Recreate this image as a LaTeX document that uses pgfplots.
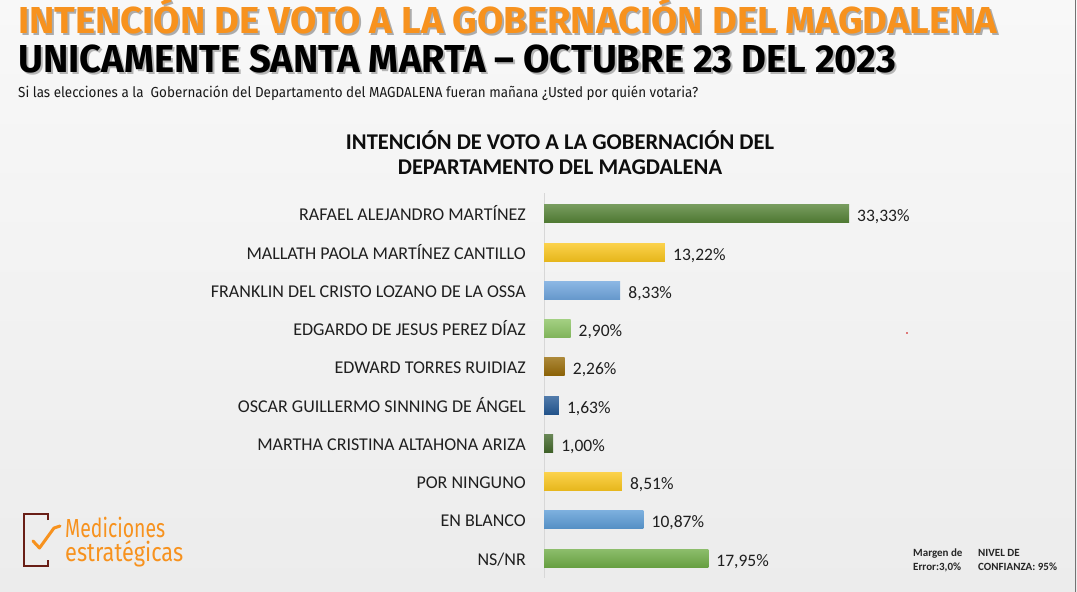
\documentclass[border=0pt]{standalone}
\usepackage{pgfplots}
\pgfplotsset{compat=1.18}
\usepackage{fontspec}
\setmainfont{Carlito}
\newfontfamily\firaf{Fira Sans}

\definecolor{orng}{RGB}{247,146,30}
\definecolor{c1}{RGB}{84,130,53}
\definecolor{c2}{RGB}{250,198,30}
\definecolor{c3}{RGB}{111,165,221}
\definecolor{c4}{RGB}{139,195,98}
\definecolor{c5}{RGB}{150,105,5}
\definecolor{c6}{RGB}{38,90,150}
\definecolor{c7}{RGB}{67,104,43}
\definecolor{c9}{RGB}{91,155,213}
\definecolor{c10}{RGB}{112,173,71}
\definecolor{logored}{RGB}{105,30,22}

% text squeezed to a given width and cap height
\newlength\capH
\newcommand\fitbox[3]{\settoheight\capH{I}\resizebox{#1}{#2}{\raisebox{0pt}[\capH][0pt]{#3}}}

\pgfplotsset{
  onebar/.style={draw=none, top color=#1!80!white, bottom color=#1!92!black}
}

\begin{document}
\begin{tikzpicture}[x=1pt,y=1pt]
  \path[use as bounding box] (0,0) rectangle (1077,-592);
  \shade[top color={rgb,255:red,248;green,248;blue,248},
         bottom color={rgb,255:red,236;green,236;blue,236}] (0,0) rectangle (1077,-592);
  \draw[black!55, line width=1.5pt] (1075.5,0) -- (1075.5,-592);

  % headline
  \node[anchor=base west, inner sep=0pt, text=black!45, opacity=0.7] at (20,-35)
    {\firaf\bfseries\fitbox{979pt}{26pt}{INTENCIÓN DE VOTO A LA GOBERNACIÓN DEL MAGDALENA}};
  \node[anchor=base west, inner sep=0pt, text=orng] at (18,-33)
    {\firaf\bfseries\fitbox{979pt}{26pt}{INTENCIÓN DE VOTO A LA GOBERNACIÓN DEL MAGDALENA}};
  \node[anchor=base west, inner sep=0pt, text=black!40, opacity=0.7] at (20,-74)
    {\firaf\bfseries\fitbox{878pt}{27pt}{UNICAMENTE SANTA MARTA – OCTUBRE 23 DEL 2023}};
  \node[anchor=base west, inner sep=0pt, text=black] at (18,-72)
    {\firaf\bfseries\fitbox{878pt}{27pt}{UNICAMENTE SANTA MARTA – OCTUBRE 23 DEL 2023}};
  \node[anchor=base west, inner sep=0pt, text=black!90] at (18,-97)
    {\firaf\fitbox{680pt}{10pt}{Si las elecciones a la\ \ Gobernación del Departamento del MAGDALENA fueran mañana ¿Usted por quién votaria?}};

  % chart title
  \node[anchor=base, inner sep=0pt, font=\fontsize{22.5}{25}\selectfont\bfseries, text=black!95] at (560,-149)
    {INTENCIÓN DE VOTO A LA GOBERNACIÓN DEL};
  \node[anchor=base, inner sep=0pt, font=\fontsize{22.5}{25}\selectfont\bfseries, text=black!95] at (560,-174)
    {DEPARTAMENTO DEL MAGDALENA};

  \begin{axis}[
    at={(544pt,-578pt)}, anchor=south west,
    scale only axis, width=500pt, height=385pt,
    xmin=0, xmax=54.64, ymin=0.451, ymax=10.523, y dir=reverse,
    xbar, bar width=18pt, bar shift=0pt,
    axis x line=none, axis y line*=left,
    y axis line style={-, draw={rgb,255:red,215;green,215;blue,215}, line width=1pt},
    ytick={1,2,3,4,5,6,7,8,9,10},
    yticklabels={RAFAEL ALEJANDRO MARTÍNEZ, MALLATH PAOLA MARTÍNEZ CANTILLO,
      FRANKLIN DEL CRISTO LOZANO DE LA OSSA, EDGARDO DE JESUS PEREZ DÍAZ,
      EDWARD TORRES RUIDIAZ, OSCAR GUILLERMO SINNING DE ÁNGEL,
      MARTHA CRISTINA ALTAHONA ARIZA, POR NINGUNO, EN BLANCO, NS/NR},
    major tick length=0pt,
    yticklabel style={font=\fontsize{18}{18}\selectfont, text=black!88,
      anchor=base east, inner sep=0pt, xshift=-18pt, yshift=-7pt},
    nodes near coords, point meta=explicit symbolic,
    every node near coord/.append style={font=\fontsize{17.5}{17.5}\selectfont, text=black!88,
      anchor=base west, inner sep=0pt, xshift=8pt, yshift=-8pt},
    clip=false,
  ]
    \addplot[onebar=c1]  coordinates {(33.33,1) [33,33\%]};
    \addplot[onebar=c2]  coordinates {(13.22,2) [13,22\%]};
    \addplot[onebar=c3]  coordinates {(8.33,3) [8,33\%]};
    \addplot[onebar=c4]  coordinates {(2.90,4) [2,90\%]};
    \addplot[onebar=c5]  coordinates {(2.26,5) [2,26\%]};
    \addplot[onebar=c6]  coordinates {(1.63,6) [1,63\%]};
    \addplot[onebar=c7]  coordinates {(1.00,7) [1,00\%]};
    \addplot[onebar=c2]  coordinates {(8.51,8) [8,51\%]};
    \addplot[onebar=c9]  coordinates {(10.87,9) [10,87\%]};
    \addplot[onebar=c10] coordinates {(17.95,10) [17,95\%]};
  \end{axis}

  \fill[red!80!black] (907,-333) circle (0.8);

  % logo
  \draw[logored, line width=1.6pt] (48,-520) -- (48,-514) -- (24,-514) -- (24,-566) -- (48,-566) -- (48,-560);
  \draw[orng, line width=3pt, line join=round, line cap=round] (33,-541) -- (39.5,-548) -- (54,-528) -- (60,-526);
  \node[anchor=base west, inner sep=0pt, text=orng] at (65,-537) {\firaf\fitbox{100pt}{18pt}{Mediciones}};
  \node[anchor=base west, inner sep=0pt, text=orng] at (65,-561) {\firaf\fitbox{118pt}{18pt}{estratégicas}};

  % footnote
  \node[anchor=base west, inner sep=0pt, font=\fontsize{11}{14}\selectfont\bfseries, text=black!85] at (913,-556) {Margen de};
  \node[anchor=base west, inner sep=0pt, font=\fontsize{11}{14}\selectfont\bfseries, text=black!85] at (913,-570) {Error:3,0\%};
  \node[anchor=base west, inner sep=0pt, font=\fontsize{11}{14}\selectfont\bfseries, text=black!85] at (978,-556) {NIVEL DE};
  \node[anchor=base west, inner sep=0pt, font=\fontsize{11}{14}\selectfont\bfseries, text=black!85] at (978,-570) {CONFIANZA: 95\%};
\end{tikzpicture}
\end{document}
